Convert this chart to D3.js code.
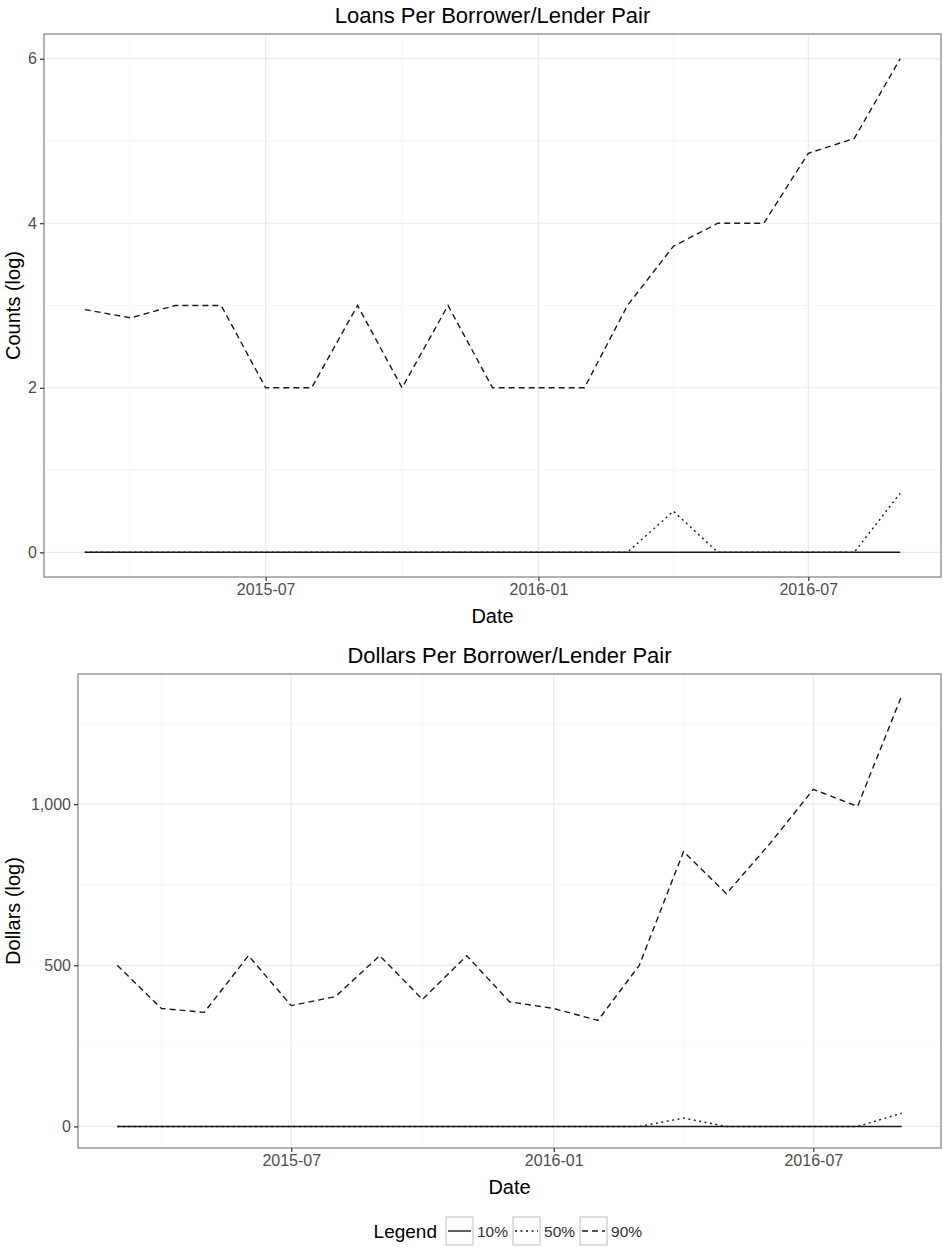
<!DOCTYPE html>
<html>
<head>
<meta charset="utf-8">
<script src="https://d3js.org/d3.v7.min.js"></script>
<style>
  body { margin: 0; background: #fff; }
  svg { display: block; font-family: "Liberation Sans", Arial, sans-serif; }
</style>
</head>
<body>
<div id="chart"></div>
<script>
// Chart size
const width = 943;
const height = 1247;

// Data: one value per month, 2015-03 .. 2016-09
const months = ["2015-03", "2015-04", "2015-05", "2015-06", "2015-07", "2015-08", "2015-09",
                "2015-10", "2015-11", "2015-12", "2016-01", "2016-02", "2016-03", "2016-04",
                "2016-05", "2016-06", "2016-07", "2016-08", "2016-09"];

const loans10 = [0, 0, 0, 0, 0, 0, 0, 0, 0, 0, 0, 0, 0, 0, 0, 0, 0, 0, 0];
const loans50 = [0, 0, 0, 0, 0, 0, 0, 0, 0, 0, 0, 0, 0, 0.5, 0, 0, 0, 0, 0.72];
const loans90 = [2.95, 2.85, 3, 3, 2, 2, 3, 2, 3, 2, 2, 2, 3, 3.72, 4, 4, 4.85, 5.03, 6];

const dollars10 = [0, 0, 0, 0, 0, 0, 0, 0, 0, 0, 0, 0, 0, 0, 0, 0, 0, 0, 0];
const dollars50 = [0, 0, 0, 0, 0, 0, 0, 0, 0, 0, 0, 0, 0, 26, 0, 0, 0, 0, 41];
const dollars90 = [500, 366, 354, 530, 375, 403, 530, 394, 530, 387, 366, 329, 500, 853,
                   722, 880, 1046, 993, 1337];

// Axis ticks
const xTicks = ["2015-07", "2016-01", "2016-07"];
const xMinor = ["2015-04", "2015-10", "2016-04"];
const loansTicks = [0, 2, 4, 6];
const loansMinor = [1, 3, 5];
const dollarsTicks = [0, 500, 1000];
const dollarsMinor = [250, 750, 1250];

const seriesNames = ["10%", "50%", "90%"];
const dashes = [null, "2,3.5", "6,4"];

const parseMonth = d3.timeParse("%Y-%m");
const dates = months.map(parseMonth);

const svg = d3.select("#chart").append("svg")
  .attr("width", width)
  .attr("height", height);

// Draw one panel
function drawPanel(opt) {
  const x = d3.scaleTime()
    .domain(padded(d3.extent(dates)))
    .range([opt.left, opt.right]);

  const allValues = opt.series.flat();
  const y = d3.scaleLinear()
    .domain(padded([d3.min(allValues), d3.max(allValues)]))
    .range([opt.bottom, opt.top]);

  const g = svg.append("g");

  // grid, minor then major
  g.selectAll(".xminor").data(xMinor.map(parseMonth)).enter().append("line")
    .attr("x1", d => x(d)).attr("x2", d => x(d))
    .attr("y1", opt.top).attr("y2", opt.bottom)
    .attr("stroke", "#f4f4f4").attr("stroke-width", 0.8);
  g.selectAll(".yminor").data(opt.minor).enter().append("line")
    .attr("x1", opt.left).attr("x2", opt.right)
    .attr("y1", d => y(d)).attr("y2", d => y(d))
    .attr("stroke", "#f4f4f4").attr("stroke-width", 0.8);
  g.selectAll(".xmajor").data(xTicks.map(parseMonth)).enter().append("line")
    .attr("x1", d => x(d)).attr("x2", d => x(d))
    .attr("y1", opt.top).attr("y2", opt.bottom)
    .attr("stroke", "#ebebeb").attr("stroke-width", 1.2);
  g.selectAll(".ymajor").data(opt.ticks).enter().append("line")
    .attr("x1", opt.left).attr("x2", opt.right)
    .attr("y1", d => y(d)).attr("y2", d => y(d))
    .attr("stroke", "#ebebeb").attr("stroke-width", 1.2);

  // lines
  const line = d3.line()
    .x((d, i) => x(dates[i]))
    .y(d => y(d));

  opt.series.forEach((s, i) => {
    g.append("path")
      .datum(s)
      .attr("fill", "none")
      .attr("stroke", "#1a1a1a")
      .attr("stroke-width", 1.4)
      .attr("stroke-dasharray", dashes[i])
      .attr("d", line);
  });

  // panel border
  g.append("rect")
    .attr("x", opt.left).attr("y", opt.top)
    .attr("width", opt.right - opt.left)
    .attr("height", opt.bottom - opt.top)
    .attr("fill", "none")
    .attr("stroke", "#8a8a8a")
    .attr("stroke-width", 1.3);

  // axes
  const xAxis = d3.axisBottom(x)
    .tickValues(xTicks.map(parseMonth))
    .tickFormat(d3.timeFormat("%Y-%m"))
    .tickSize(4)
    .tickPadding(3);
  const yAxis = d3.axisLeft(y)
    .tickValues(opt.ticks)
    .tickFormat(d3.format(","))
    .tickSize(4)
    .tickPadding(3);

  const gx = g.append("g")
    .attr("transform", `translate(0,${opt.bottom})`)
    .call(xAxis);
  const gy = g.append("g")
    .attr("transform", `translate(${opt.left},0)`)
    .call(yAxis);
  [gx, gy].forEach(a => {
    a.select(".domain").remove();
    a.selectAll(".tick line").attr("stroke", "#333").attr("stroke-width", 1.2);
    a.selectAll(".tick text")
      .attr("fill", "#4d4d4d")
      .style("font-size", "16px")
      .style("font-family", "'Liberation Sans', Arial, sans-serif");
  });

  const cx = (opt.left + opt.right) / 2;

  // titles
  g.append("text")
    .attr("x", cx).attr("y", opt.top - 11)
    .attr("text-anchor", "middle")
    .style("font-size", "22px")
    .text(opt.title);

  g.append("text")
    .attr("x", cx).attr("y", opt.bottom + 46)
    .attr("text-anchor", "middle")
    .style("font-size", "20px")
    .text("Date");

  g.append("text")
    .attr("transform", `translate(20,${(opt.top + opt.bottom) / 2}) rotate(-90)`)
    .attr("text-anchor", "middle")
    .style("font-size", "20px")
    .text(opt.yTitle);
}

// expand range 5% each side like ggplot
function padded(ext) {
  const a = +ext[0], b = +ext[1];
  const p = (b - a) * 0.05;
  return ext[0] instanceof Date ? [new Date(a - p), new Date(b + p)] : [a - p, b + p];
}

drawPanel({
  title: "Loans Per Borrower/Lender Pair",
  yTitle: "Counts (log)",
  left: 44, right: 941, top: 34, bottom: 577,
  series: [loans10, loans50, loans90],
  ticks: loansTicks, minor: loansMinor
});

drawPanel({
  title: "Dollars Per Borrower/Lender Pair",
  yTitle: "Dollars (log)",
  left: 78, right: 941, top: 674, bottom: 1148,
  series: [dollars10, dollars50, dollars90],
  ticks: dollarsTicks, minor: dollarsMinor
});

// Legend at the bottom
const legend = svg.append("g").attr("transform", "translate(0,1231)");

legend.append("text")
  .attr("x", 437).attr("y", 7)
  .attr("text-anchor", "end")
  .style("font-size", "19px")
  .text("Legend");

let lx = 446;
seriesNames.forEach((name, i) => {
  legend.append("rect")
    .attr("x", lx).attr("y", -14)
    .attr("width", 27).attr("height", 28)
    .attr("fill", "#fff")
    .attr("stroke", "#c8c8c8")
    .attr("stroke-width", 1.2);
  legend.append("line")
    .attr("x1", lx + 2).attr("x2", lx + 25)
    .attr("y1", 0).attr("y2", 0)
    .attr("stroke", "#1a1a1a")
    .attr("stroke-width", 1.4)
    .attr("stroke-dasharray", dashes[i]);
  const t = legend.append("text")
    .attr("x", lx + 31).attr("y", 6)
    .attr("fill", "#333")
    .style("font-size", "15.5px")
    .text(name);
  lx += 31 + t.node().getComputedTextLength() + 5;
});
</script>
</body>
</html>
